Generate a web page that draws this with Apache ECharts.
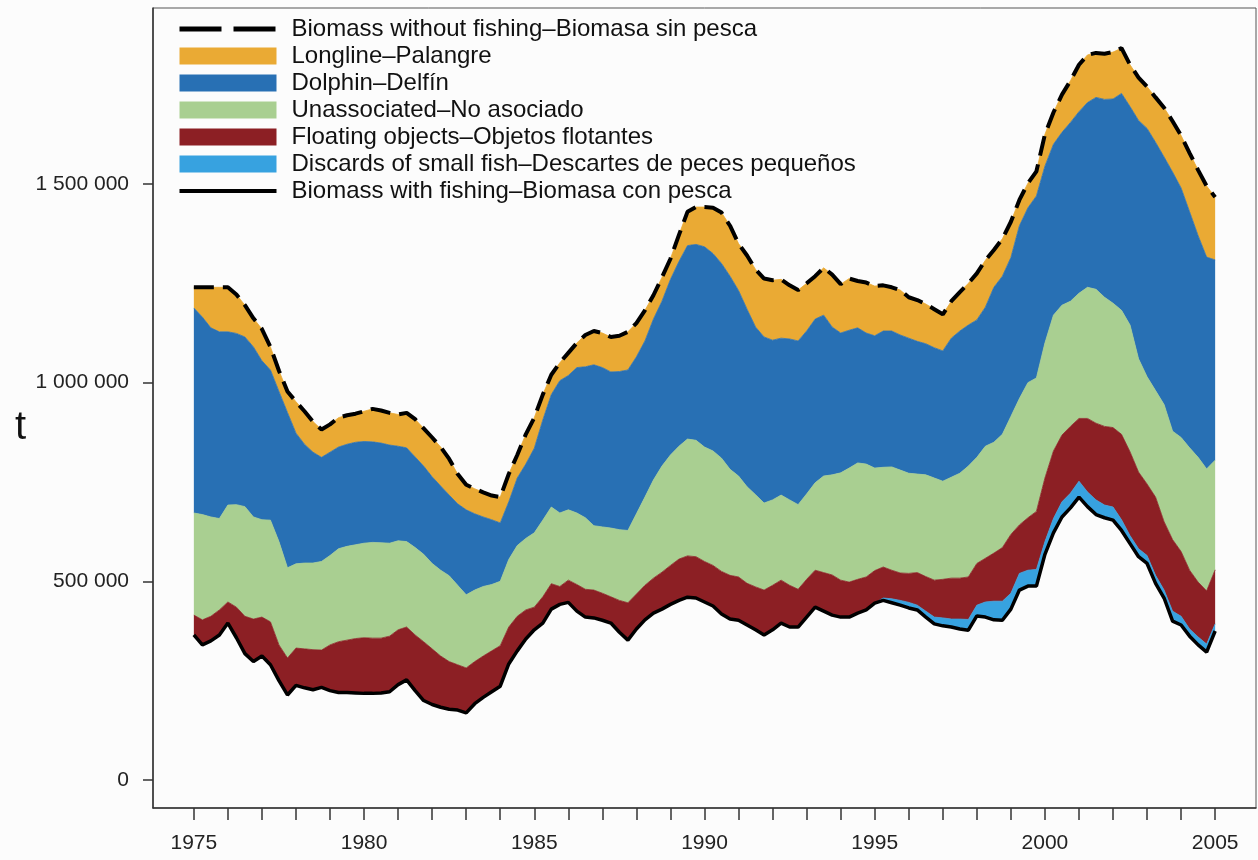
<!DOCTYPE html>
<html>
<head>
<meta charset="utf-8">
<title>Biomass with and without fishing</title>
<script src="https://cdn.jsdelivr.net/npm/echarts@6/dist/echarts.min.js"></script>
<style>
  html, body { margin: 0; padding: 0; background: #fcfcfc; }
  #chart { width: 1258px; height: 860px; }
</style>
</head>
<body>
<div id="chart"></div>
<script>
// quarterly values, thousands of tonnes, 1975.00 .. 2005.00
// upper edge of every band in the stack, read top to bottom
const withoutFishing = [
  1240, 1240, 1240, 1240, 1240, 1222, 1195, 1162, 1135, 1090, 1030, 978,
  952, 928, 902, 882, 895, 912, 918, 922, 928, 934, 930, 924,
  920, 924, 908, 885, 862, 838, 808, 770, 743, 733, 724, 716,
  712, 770, 818, 870, 912, 970, 1020, 1050, 1075, 1100, 1120, 1130,
  1125, 1115, 1118, 1128, 1150, 1182, 1220, 1265, 1312, 1372, 1430, 1442,
  1442, 1440, 1428, 1395, 1350, 1320, 1285, 1262, 1258, 1260, 1245, 1233,
  1250, 1268, 1289, 1272, 1248, 1262, 1256, 1252, 1243, 1245, 1240, 1233,
  1215, 1208, 1198, 1185, 1172, 1205, 1228, 1250, 1275, 1308, 1334, 1362,
  1405, 1460, 1502, 1532, 1625, 1680, 1725, 1760, 1800, 1825, 1830, 1828,
  1832, 1842, 1800, 1768, 1745, 1718, 1692, 1658, 1622, 1578, 1535, 1495,
  1467
];
const dolphinTop = [
  1188, 1165, 1138, 1128, 1128, 1124, 1115, 1090, 1055, 1032, 978, 925,
  873, 845, 825, 812, 825, 838, 845, 850, 852, 851, 848, 843,
  840, 836, 813, 790, 763, 740, 717, 695, 680, 670, 662, 655,
  647, 700, 760, 795, 835, 906, 970, 1005, 1018, 1038, 1040, 1045,
  1038, 1027, 1028, 1032, 1065, 1105, 1160, 1205, 1260, 1305, 1345, 1348,
  1342, 1325, 1300, 1268, 1232, 1185, 1140, 1115, 1107, 1112, 1110, 1105,
  1130, 1160, 1170, 1140, 1125, 1132, 1138, 1125, 1118, 1130, 1130, 1120,
  1112, 1104, 1098, 1088, 1080, 1112, 1130, 1145, 1158, 1190, 1240, 1268,
  1315, 1395, 1440, 1470, 1545, 1600, 1630, 1655, 1682, 1705, 1718, 1713,
  1714, 1728, 1695, 1660, 1640, 1605, 1568, 1530, 1490, 1430, 1370, 1316,
  1309
];
const unassocTop = [
  672, 668, 662, 658, 692, 693, 688, 662, 655, 654, 600, 534,
  544, 546, 546, 550, 565, 582, 588, 592, 596, 598, 597, 596,
  602, 600, 585, 568, 545, 528, 514, 490, 466, 478, 487, 492,
  500, 555, 590, 608, 622, 654, 687, 672, 680, 672, 660, 640,
  637, 634, 630, 628, 670, 712, 755, 790, 818, 840, 858, 855,
  838, 828, 810, 782, 765, 738, 718, 697, 705, 717, 705, 693,
  720, 748, 765, 768, 773, 785, 798, 795, 785, 787, 788, 780,
  772, 770, 768, 760, 752, 762, 772, 790, 812, 840, 850, 870,
  915, 960, 1000, 1012, 1100, 1170, 1195, 1205, 1225, 1240, 1235, 1215,
  1200, 1182, 1145, 1060, 1015, 980, 945, 878, 862, 836, 812, 783,
  805
];
const floatingTop = [
  415, 403, 412, 428, 448, 435, 412, 405, 410, 398, 340, 307,
  332, 330, 328, 327, 340, 348, 352, 356, 358, 357, 357, 362,
  378, 385, 365, 348, 330, 312, 298, 290, 282, 298, 312, 325,
  338, 385, 412, 428, 435, 461, 494, 487, 503, 492, 480, 478,
  470, 461, 452, 446, 468, 490, 508, 523, 540, 556, 564, 562,
  550, 540, 525, 515, 511, 495, 486, 478, 490, 503, 490, 480,
  505, 528, 522, 516, 503, 498, 505, 511, 527, 536, 528, 521,
  520, 522, 512, 503, 505, 508, 508, 511, 545, 558, 571, 585,
  618, 642, 660, 676, 760, 828, 868, 890, 910, 910, 898, 890,
  887, 870, 826, 775, 745, 712, 650, 605, 575, 528, 498, 476,
  529
];
const discardsTop = [
  365, 340, 350, 365, 395, 358, 318, 298, 312, 290, 250, 214,
  238, 232, 227, 233, 225, 220, 220, 219, 218, 218, 219, 222,
  240, 252, 225, 200, 190, 183, 178, 176, 169, 192, 208, 222,
  236, 292, 325, 355, 378, 395, 430, 442, 447, 425, 410, 408,
  402, 395, 372, 352, 380, 403, 420, 430, 442, 452, 460, 458,
  448, 438, 418, 405, 402, 390, 378, 365, 378, 395, 385, 385,
  410, 435, 425, 415, 410, 410, 420, 428, 445, 458, 456, 452,
  447, 440, 425, 410, 408, 405, 405, 404, 440, 448, 450, 450,
  470, 520, 528, 530, 600, 658, 700, 722, 752, 725, 705, 692,
  687, 655, 615, 582, 565, 515, 478, 425, 412, 380, 360, 342,
  393
];
const withFishing = [
  365, 340, 350, 365, 395, 358, 318, 298, 312, 290, 250, 214,
  238, 232, 227, 233, 225, 220, 220, 219, 218, 218, 219, 222,
  240, 252, 225, 200, 190, 183, 178, 176, 169, 192, 208, 222,
  236, 292, 325, 355, 378, 395, 430, 442, 447, 425, 410, 408,
  402, 395, 372, 352, 380, 403, 420, 430, 442, 452, 460, 458,
  448, 438, 418, 405, 402, 390, 378, 365, 378, 395, 385, 385,
  410, 435, 425, 415, 410, 410, 420, 428, 445, 452, 446, 440,
  433, 428, 410, 393, 388, 385, 380, 377, 413, 410, 403, 402,
  430, 478, 488, 488, 568, 622, 662, 685, 712, 688, 668, 660,
  654, 628, 595, 562, 545, 495, 458, 400, 390, 362, 340, 322,
  375
];

const yearTicks = [
  1975, 1976, 1977, 1978, 1979, 1980, 1981, 1982, 1983, 1984, 1985,
  1986, 1987, 1988, 1989, 1990, 1991, 1992, 1993, 1994, 1995,
  1996, 1997, 1998, 1999, 2000, 2001, 2002, 2003, 2004, 2005
];
const yearLabels = [1975, 1980, 1985, 1990, 1995, 2000, 2005];
const tonTicks = [0, 500000, 1000000, 1500000];

const names = {
  without: "Biomass without fishing\u2013Biomasa sin pesca",
  longline: "Longline\u2013Palangre",
  dolphin: "Dolphin\u2013Delf\u00edn",
  unassoc: "Unassociated\u2013No asociado",
  floating: "Floating objects\u2013Objetos flotantes",
  discards: "Discards of small fish\u2013Descartes de peces peque\u00f1os",
  with: "Biomass with fishing\u2013Biomasa con pesca"
};

const bg = "#fcfcfc";
const font = "Liberation Sans, Arial, sans-serif";
const year = i => 1975 + i / 4;
// value first, year second: the stack then works on the value column
const pts = arr => arr.map((v, i) => [v * 1000, year(i)]);
const band = (upper, lower) => upper.map((v, i) => [(v - lower[i]) * 1000, year(i)]);

function bandSeries(name, color, upper, lower) {
  return {
    name,
    type: "line",
    stack: "impact",
    symbol: "none",
    silent: true,
    encode: { x: 1, y: 0 },
    data: band(upper, lower),
    itemStyle: { color },
    lineStyle: { width: 0.8, color },
    areaStyle: { color, opacity: 1 }
  };
}

function edgeSeries(name, data, lineStyle) {
  return {
    name,
    type: "line",
    symbol: "none",
    silent: true,
    z: 5,
    encode: { x: 1, y: 0 },
    data: pts(data),
    itemStyle: { color: "#000" },
    lineStyle
  };
}

const chart = echarts.init(document.getElementById("chart"));

chart.setOption({
  animation: false,
  backgroundColor: bg,
  grid: {
    left: 153,
    right: 2,
    top: 8,
    bottom: 52,
    show: true,
    borderColor: "#555",
    borderWidth: 1
  },
  legend: {
    orient: "vertical",
    left: 172,
    top: 12,
    itemWidth: 97,
    itemHeight: 17,
    itemGap: 3,
    selectedMode: false,
    textStyle: {
      fontFamily: font,
      fontSize: 24,
      color: "#111",
      padding: [0, 0, 0, 10]
    },
    data: [
      { name: names.without, itemStyle: { opacity: 0 }, lineStyle: { type: [42, 12], width: 5 } },
      { name: names.longline, icon: "rect" },
      { name: names.dolphin, icon: "rect" },
      { name: names.unassoc, icon: "rect" },
      { name: names.floating, icon: "rect" },
      { name: names.discards, icon: "rect" },
      { name: names.with, itemStyle: { opacity: 0 }, lineStyle: { width: 4 } }
    ]
  },
  xAxis: {
    type: "value",
    min: 1973.8,
    max: 2006.2,
    splitLine: { show: false },
    axisLine: { onZero: false, lineStyle: { color: "#333", width: 1.5 } },
    axisTick: {
      length: 12,
      customValues: yearTicks,
      lineStyle: { color: "#333", width: 1.5 }
    },
    axisLabel: {
      customValues: yearLabels,
      formatter: v => String(v),
      margin: 25,
      fontFamily: font,
      fontSize: 21,
      color: "#222"
    }
  },
  yAxis: {
    type: "value",
    min: -70500,
    max: 1943000,
    name: "t",
    nameLocation: "middle",
    nameRotate: 0,
    nameGap: 127,
    nameTextStyle: { fontFamily: font, fontSize: 40, color: "#111", verticalAlign: "top" },
    splitLine: { show: false },
    axisLine: { lineStyle: { color: "#333", width: 1.5 } },
    axisTick: {
      length: 10,
      customValues: tonTicks,
      lineStyle: { color: "#333", width: 1.5 }
    },
    axisLabel: {
      customValues: tonTicks,
      formatter: v => String(v).replace(/\B(?=(\d{3})+(?!\d))/g, " "),
      margin: 24,
      fontFamily: font,
      fontSize: 21,
      color: "#222"
    }
  },
  series: [
    {
      name: "base",
      type: "line",
      stack: "impact",
      symbol: "none",
      silent: true,
      encode: { x: 1, y: 0 },
      data: pts(withFishing),
      lineStyle: { opacity: 0 }
    },
    bandSeries(names.discards, "#37a2e0", discardsTop, withFishing),
    bandSeries(names.floating, "#8c1f24", floatingTop, discardsTop),
    bandSeries(names.unassoc, "#a9cf91", unassocTop, floatingTop),
    bandSeries(names.dolphin, "#2870b4", dolphinTop, unassocTop),
    bandSeries(names.longline, "#eaaa34", withoutFishing, dolphinTop),
    edgeSeries(names.without, withoutFishing, { color: "#000", width: 4, type: [20, 9], cap: "butt" }),
    edgeSeries(names.with, withFishing, { color: "#000", width: 3.5 })
  ]
});
</script>
</body>
</html>
